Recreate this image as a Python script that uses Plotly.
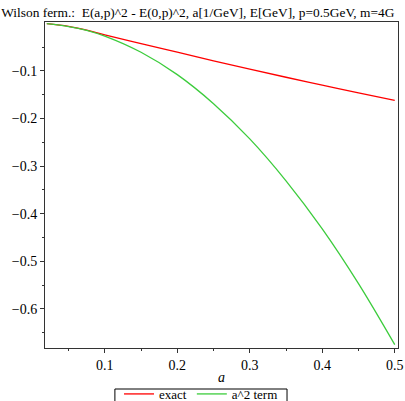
import plotly.graph_objects as go

a_vals = [0.02, 0.05, 0.075, 0.1, 0.15, 0.2, 0.25, 0.3, 0.35, 0.4, 0.45, 0.5]
exact_vals = [-0.001, -0.0065, -0.0145, -0.0245, -0.043, -0.061, -0.079, -0.0965, -0.1135, -0.130, -0.1465, -0.162]
a2_vals = [-0.001, -0.007, -0.015, -0.027, -0.061, -0.108, -0.169, -0.243, -0.331, -0.432, -0.547, -0.675]

title_text = "Wilson ferm.:  E(a,p)^2 - E(0,p)^2, a[1/GeV], E[GeV], p=0.5GeV, m=4G"
y_ticks = [-0.1, -0.2, -0.3, -0.4, -0.5, -0.6]
x_ticks = [0.1, 0.2, 0.3, 0.4, 0.5]

FONT = "Times New Roman, Liberation Serif, Times, serif"

fig = go.Figure()
fig.add_trace(go.Scatter(x=a_vals, y=exact_vals, mode="lines", name="exact",
                         line=dict(color="#ff0000", width=1.3, shape="spline", smoothing=1.0)))
fig.add_trace(go.Scatter(x=a_vals, y=a2_vals, mode="lines", name="a^2 term",
                         line=dict(color="#3ccc3c", width=1.3, shape="spline", smoothing=1.0)))

axis_common = dict(showline=True, linecolor="#333", linewidth=1, mirror=True,
                   showgrid=False, zeroline=False, ticks="outside", ticklen=4,
                   tickcolor="#333", tickfont=dict(family=FONT, size=14, color="black"))

fig.update_xaxes(range=[0.0175, 0.5045], tickvals=x_ticks,
                 minor=dict(ticks="outside", ticklen=2, tickcolor="#333",
                            tickvals=[0.05, 0.15, 0.25, 0.35, 0.45]),
                 **axis_common)
fig.update_yaxes(range=[-0.682, 0.0025], tickvals=y_ticks,
                 minor=dict(ticks="outside", ticklen=2, tickcolor="#333",
                            tickvals=[-0.05, -0.15, -0.25, -0.35, -0.45, -0.55, -0.65]),
                 **axis_common)

fig.update_layout(
    width=405, height=401,
    margin=dict(l=45, r=7, t=22, b=53, autoexpand=False),
    paper_bgcolor="white", plot_bgcolor="white",
    font=dict(family=FONT, size=13, color="black"),
    title=dict(text=title_text, x=0.003, xref="container", xanchor="left",
               y=1 - 12.5 / 401, yref="container", yanchor="middle",
               font=dict(family=FONT, size=13.4, color="black")),
    showlegend=True,
    legend=dict(orientation="h", x=0.442, xanchor="center", y=-0.095, yanchor="top",
                borderwidth=0, bgcolor="rgba(0,0,0,0)",
                font=dict(family=FONT, size=13, color="black"),
                itemwidth=30, tracegroupgap=0),
    shapes=[dict(type="rect", xref="paper", yref="paper",
                 x0=0.198, x1=0.6856, y0=-0.1258, y1=-0.1748,
                 line=dict(color="black", width=1), fillcolor="rgba(0,0,0,0)",
                 layer="below")],
    annotations=[dict(text="<i>a</i>", x=0.5, y=-0.092, xref="paper", yref="paper",
                      xanchor="center", yanchor="middle", showarrow=False,
                      font=dict(family=FONT, size=14, color="black"))],
)

fig.write_html("out.html")
